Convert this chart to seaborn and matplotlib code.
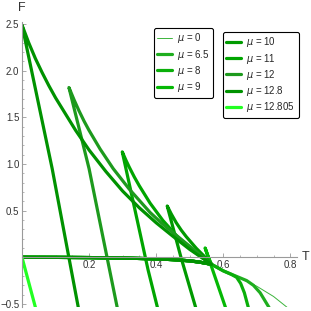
import numpy as np
import pandas as pd
import seaborn as sns
import matplotlib.pyplot as plt
from matplotlib.lines import Line2D
from matplotlib.ticker import MultipleLocator

sns.set_style('white')
plt.rcParams['font.family'] = ['Liberation Sans', 'DejaVu Sans']

# chemical potential values and their line colours
mu_values = [0, 6.5, 8, 9, 10, 11, 12, 12.8, 12.805]
mu_colors = ['#3cb43c', '#1fae1f', '#0aaf0a', '#05b805', '#009a00',
             '#00a500', '#1d9a1d', '#009200', '#22ff22']

# low-F branch shared by the curves (F ~ 0 up to the turning point)
flat_T = [0.0, 0.1, 0.2, 0.3, 0.4, 0.45, 0.5, 0.53, 0.565]
flat_F = [0.0, -0.001, -0.003, -0.008, -0.017, -0.025, -0.038, -0.052, -0.075]

# mu = 0 (thin curve, continues past the turning point)
tail0_T = [0.6, 0.65, 0.7, 0.75, 0.79]
tail0_F = [-0.145, -0.225, -0.31, -0.42, -0.535]

# mu = 6.5 and mu = 8 tails
tail65_T = [0.6, 0.64, 0.67, 0.69, 0.71, 0.737]
tail65_F = [-0.145, -0.205, -0.25, -0.30, -0.38, -0.54]
tail8_T = [0.6, 0.625, 0.64, 0.652, 0.663, 0.675]
tail8_F = [-0.145, -0.185, -0.215, -0.28, -0.38, -0.54]

# upper branches (cusp -> turning point) and steep branches (cusp -> down)
up9_T = [0.546, 0.556, 0.565]
up9_F = [0.10, 0.0, -0.075]
steep9_T = [0.546, 0.607]
steep9_F = [0.10, -0.54]

up10_T = [0.433, 0.445, 0.46, 0.475, 0.49, 0.52, 0.545, 0.565]
up10_F = [0.55, 0.465, 0.37, 0.29, 0.22, 0.095, 0.005, -0.075]
steep10_T = [0.433, 0.474, 0.518]
steep10_F = [0.55, 0.0, -0.54]

up11_T = [0.299, 0.31, 0.32, 0.335, 0.35, 0.382, 0.42, 0.46, 0.51, 0.565]
up11_F = [1.13, 1.04, 0.965, 0.86, 0.765, 0.58, 0.395, 0.235, 0.07, -0.075]
steep11_T = [0.299, 0.376, 0.404]
steep11_F = [1.13, -0.136, -0.54]

up12_T = [0.140, 0.155, 0.17, 0.185, 0.20, 0.233, 0.272, 0.32, 0.382, 0.412,
          0.46, 0.51, 0.565]
up12_F = [1.82, 1.69, 1.57, 1.46, 1.36, 1.16, 0.95, 0.73, 0.48, 0.38,
          0.235, 0.09, -0.075]
steep12_T = [0.140, 0.200, 0.284]
steep12_F = [1.82, 0.95, -0.54]

up128_T = [0.0, 0.02, 0.04, 0.06, 0.08, 0.10, 0.13, 0.16, 0.20, 0.25, 0.30,
           0.35, 0.40, 0.45, 0.50, 0.565]
up128_F = [2.49, 2.30, 2.13, 1.98, 1.84, 1.71, 1.535, 1.36, 1.15, 0.92, 0.71,
           0.53, 0.37, 0.225, 0.085, -0.075]
steep128_T = [0.0, 0.09, 0.168]
steep128_F = [2.49, 0.95, -0.54]

steep12805_T = [0.0, 0.041]
steep12805_F = [0.0, -0.55]


def curve(mu, T, F):
    return pd.DataFrame({'T': T, 'F': F, 'mu': mu})


def swallow(mu, upT, upF, stT, stF):
    T = flat_T + upT[::-1] + stT[1:]
    F = flat_F + upF[::-1] + stF[1:]
    return curve(mu, T, F)


thin_df = curve(0, flat_T + tail0_T, flat_F + tail0_F)
thick_df = pd.concat([
    curve(6.5, flat_T + tail65_T, flat_F + tail65_F),
    curve(8, flat_T + tail8_T, flat_F + tail8_F),
    swallow(9, up9_T, up9_F, steep9_T, steep9_F),
    swallow(10, up10_T, up10_F, steep10_T, steep10_F),
    swallow(11, up11_T, up11_F, steep11_T, steep11_F),
    swallow(12, up12_T, up12_F, steep12_T, steep12_F),
    swallow(12.8, up128_T, up128_F, steep128_T, steep128_F),
    curve(12.805, steep12805_T, steep12805_F),
], ignore_index=True)

palette = dict(zip(mu_values, mu_colors))

fig = plt.figure(figsize=(3.11, 3.11), dpi=100)
ax = fig.add_axes([22 / 311, 3.8 / 311, 275 / 311, 285 / 311])

sns.lineplot(data=thin_df, x='T', y='F', hue='mu', palette={0: palette[0]},
             sort=False, estimator=None, lw=0.7, legend=False, ax=ax)
sns.lineplot(data=thick_df, x='T', y='F', hue='mu',
             palette={m: palette[m] for m in mu_values[1:]},
             hue_order=mu_values[1:], sort=False, estimator=None, lw=2.3,
             legend=False, ax=ax, solid_joinstyle='round')

ax.set_xlim(0, 0.82)
ax.set_ylim(-0.535, 2.52)
ax.set_xlabel('')
ax.set_ylabel('')

# Mathematica-style axes through the origin
for side in ['top', 'right']:
    ax.spines[side].set_visible(False)
ax.spines['left'].set_position(('data', 0))
ax.spines['bottom'].set_position(('data', 0))
for side in ['left', 'bottom']:
    ax.spines[side].set_color('#9a9a9a')
    ax.spines[side].set_linewidth(0.8)

ax.set_xticks([0.2, 0.4, 0.6, 0.8])
ax.set_yticks([-0.5, 0.5, 1.0, 1.5, 2.0, 2.5])
ax.xaxis.set_minor_locator(MultipleLocator(0.05))
ax.yaxis.set_minor_locator(MultipleLocator(0.1))
ax.tick_params(which='both', direction='in', color='#9a9a9a', labelsize=7,
               labelcolor='#333333', bottom=True, left=True)
ax.tick_params(which='major', length=3, width=0.6)
ax.tick_params(which='minor', length=1.6, width=0.5)
ax.tick_params(axis='x', pad=2)
ax.tick_params(axis='y', pad=2)

fig.text(22 / 311, 1 - 8 / 311, 'F', ha='center', va='center', fontsize=9,
         color='#333333')
fig.text(306 / 311, 1 - 257 / 311, 'T', ha='center', va='center', fontsize=9,
         color='#333333')

handles = [Line2D([], [], color=c, lw=0.7 if m == 0 else 2.3)
           for m, c in zip(mu_values, mu_colors)]
labels = [r'$\mu$ = ' + str(m) for m in mu_values]

leg_kw = dict(loc='upper left', bbox_transform=fig.transFigure, fontsize=7,
              frameon=True, fancybox=True, edgecolor='black',
              handlelength=1.5, handletextpad=0.55, labelspacing=0.23,
              borderpad=0.35, borderaxespad=0, framealpha=1)
leg1 = ax.legend(handles[:4], labels[:4], bbox_to_anchor=(154 / 311, 1 - 28 / 311), **leg_kw)
leg1.get_frame().set_linewidth(0.8)
ax.add_artist(leg1)
leg2 = ax.legend(handles[4:], labels[4:], bbox_to_anchor=(223 / 311, 1 - 32 / 311), **leg_kw)
leg2.get_frame().set_linewidth(0.8)

fig.savefig('out.png', dpi=100)
